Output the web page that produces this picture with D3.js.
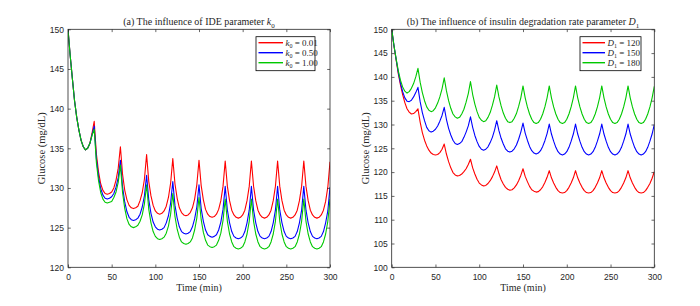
<!DOCTYPE html>
<html>
<head>
<meta charset="utf-8">
<script src="https://cdn.jsdelivr.net/npm/d3@7"></script>
<style>
  body { margin: 0; background: #fff; }
  svg { display: block; }
  .tick text { font-family: "Liberation Sans", Arial, sans-serif; font-size: 8.5px; fill: #262626; }
  .serif { font-family: "Liberation Serif", "Times New Roman", serif; fill: #262626; }
</style>
</head>
<body>
<svg id="chart" width="700" height="306"></svg>
<script>
// sample times (min)
const time = d3.range(0, 300.01, 2.5);
const xTicks = [0, 50, 100, 150, 200, 250, 300];
const yTicksA = [120, 125, 130, 135, 140, 145, 150];
const yTicksB = [100, 105, 110, 115, 120, 125, 130, 135, 140, 145, 150];
const legendA = ["0.01", "0.50", "1.00"];
const legendB = ["120", "150", "180"];
const colors = ["#ff0000", "#0000ff", "#00c800"];

// (a) IDE parameter k0
const ideK001 = [
  150, 146.7, 143.8, 141.0, 138.9, 137.3, 136.0, 135.2, 134.8, 135.0, 135.6, 136.9,
  138.4, 134.3, 132.0, 130.5, 129.7, 129.3, 129.2, 129.3, 129.5, 130.0, 131.0, 132.5,
  135.2, 131.7, 129.7, 128.5, 127.8, 127.5, 127.4, 127.5, 127.7, 128.4, 129.4, 131.1,
  134.2, 130.8, 129.0, 127.8, 127.1, 126.8, 126.7, 126.8, 127.1, 127.7, 128.8, 130.6,
  133.7, 130.5, 128.7, 127.5, 126.9, 126.6, 126.5, 126.6, 126.9, 127.5, 128.6, 130.4,
  133.5, 130.3, 128.5, 127.3, 126.7, 126.4, 126.3, 126.4, 126.7, 127.3, 128.4, 130.2,
  133.4, 130.2, 128.4, 127.2, 126.6, 126.3, 126.2, 126.3, 126.6, 127.2, 128.4, 130.2,
  133.4, 130.2, 128.4, 127.2, 126.6, 126.3, 126.2, 126.3, 126.6, 127.2, 128.4, 130.2,
  133.4, 130.2, 128.4, 127.2, 126.6, 126.3, 126.2, 126.3, 126.6, 127.2, 128.4, 130.2,
  133.4, 130.2, 128.4, 127.2, 126.6, 126.3, 126.2, 126.3, 126.6, 127.2, 128.3, 130.1,
  133.3
];
const ideK050 = [
  150, 146.7, 143.8, 141.0, 138.9, 137.3, 136.0, 135.2, 134.8, 135.0, 135.6, 136.7,
  137.8, 133.7, 131.4, 129.9, 129.1, 128.7, 128.6, 128.7, 128.9, 129.3, 130.1, 131.3,
  133.5, 130.1, 128.2, 127.0, 126.3, 126.0, 125.9, 126.0, 126.2, 126.7, 127.6, 129.0,
  131.6, 128.5, 126.8, 125.7, 125.1, 124.8, 124.7, 124.8, 125.0, 125.6, 126.5, 128.1,
  130.8, 127.8, 126.2, 125.1, 124.5, 124.3, 124.2, 124.3, 124.5, 125.1, 126.1, 127.6,
  130.4, 127.4, 125.8, 124.7, 124.1, 123.9, 123.8, 123.9, 124.1, 124.7, 125.7, 127.3,
  130.2, 127.2, 125.6, 124.5, 123.9, 123.7, 123.6, 123.7, 123.9, 124.5, 125.6, 127.2,
  130.2, 127.2, 125.6, 124.5, 123.9, 123.7, 123.6, 123.7, 123.9, 124.5, 125.6, 127.2,
  130.2, 127.2, 125.6, 124.5, 123.9, 123.7, 123.6, 123.7, 123.9, 124.5, 125.6, 127.2,
  130.2, 127.2, 125.6, 124.5, 123.9, 123.7, 123.6, 123.7, 123.9, 124.5, 125.6, 127.1,
  130.1
];
const ideK100 = [
  150, 146.7, 143.8, 141.0, 138.9, 137.3, 136.0, 135.2, 134.8, 135.0, 135.6, 136.6,
  137.4, 133.2, 130.9, 129.4, 128.6, 128.2, 128.1, 128.2, 128.3, 128.8, 129.5, 130.7,
  132.9, 129.4, 127.4, 126.1, 125.4, 125.1, 125.0, 125.1, 125.3, 125.8, 126.6, 128.0,
  130.4, 127.3, 125.6, 124.5, 123.9, 123.6, 123.5, 123.6, 123.8, 124.3, 125.2, 126.7,
  129.3, 126.4, 124.8, 123.8, 123.2, 123.0, 122.9, 123.0, 123.2, 123.7, 124.7, 126.2,
  128.8, 126.0, 124.4, 123.4, 122.8, 122.6, 122.5, 122.6, 122.8, 123.4, 124.3, 125.9,
  128.6, 125.8, 124.2, 123.2, 122.6, 122.4, 122.3, 122.4, 122.6, 123.2, 124.2, 125.8,
  128.6, 125.8, 124.2, 123.2, 122.6, 122.4, 122.3, 122.4, 122.6, 123.2, 124.2, 125.8,
  128.6, 125.8, 124.2, 123.2, 122.6, 122.4, 122.3, 122.4, 122.6, 123.2, 124.2, 125.8,
  128.6, 125.8, 124.2, 123.2, 122.6, 122.4, 122.3, 122.4, 122.6, 123.2, 124.2, 125.8,
  128.6
];

// (b) insulin degradation rate D1
const degD120 = [
  150, 146.6, 143.6, 140.7, 138.3, 136.3, 134.6, 133.3, 132.6, 132.2, 132.3, 132.7,
  133.3, 130.5, 128.3, 126.7, 125.5, 124.6, 124.0, 123.7, 123.6, 123.7, 124.1, 124.8,
  125.9, 123.8, 122.2, 120.9, 119.9, 119.4, 119.2, 119.3, 119.6, 120.1, 120.7, 121.6,
  122.7, 120.9, 119.6, 118.5, 117.7, 117.3, 117.1, 117.2, 117.6, 118.2, 119.0, 120.0,
  121.3, 119.7, 118.4, 117.5, 116.8, 116.4, 116.2, 116.3, 116.7, 117.3, 118.2, 119.3,
  120.7, 119.1, 118.0, 117.0, 116.3, 116.0, 115.8, 115.9, 116.3, 116.9, 117.8, 118.9,
  120.3, 118.8, 117.7, 116.8, 116.1, 115.7, 115.6, 115.7, 116.1, 116.8, 117.7, 118.8,
  120.3, 118.8, 117.7, 116.8, 116.1, 115.7, 115.6, 115.7, 116.1, 116.8, 117.7, 118.8,
  120.3, 118.8, 117.7, 116.8, 116.1, 115.7, 115.6, 115.7, 116.1, 116.8, 117.7, 118.8,
  120.3, 118.8, 117.7, 116.8, 116.1, 115.7, 115.6, 115.7, 116.1, 116.8, 117.6, 118.7,
  120.1
];
const degD150 = [
  150, 146.7, 143.8, 141.0, 138.7, 136.9, 135.6, 134.9, 134.8, 135.1, 135.8, 136.7,
  137.8, 134.8, 132.5, 130.8, 129.4, 128.7, 128.4, 128.6, 129.0, 129.7, 130.7, 131.9,
  133.6, 131.1, 129.2, 127.8, 126.7, 126.0, 125.8, 126.0, 126.4, 127.3, 128.4, 129.7,
  131.6, 129.4, 127.7, 126.4, 125.4, 124.8, 124.6, 124.8, 125.3, 126.2, 127.3, 128.8,
  130.8, 128.7, 127.1, 125.9, 124.9, 124.4, 124.2, 124.4, 124.9, 125.7, 126.9, 128.4,
  130.3, 128.2, 126.7, 125.4, 124.5, 124.0, 123.8, 124.0, 124.5, 125.4, 126.6, 128.1,
  130.1, 128.0, 126.5, 125.2, 124.3, 123.8, 123.6, 123.8, 124.3, 125.2, 126.5, 128.0,
  130.1, 128.0, 126.5, 125.2, 124.3, 123.8, 123.6, 123.8, 124.3, 125.2, 126.5, 128.0,
  130.1, 128.0, 126.5, 125.2, 124.3, 123.8, 123.6, 123.8, 124.3, 125.2, 126.5, 128.0,
  130.1, 128.0, 126.5, 125.2, 124.3, 123.8, 123.6, 123.8, 124.3, 125.2, 126.5, 128.0,
  130.0
];
const degD180 = [
  150, 146.7, 143.9, 141.3, 139.3, 137.9, 137.0, 136.6, 136.9, 137.6, 138.6, 140.0,
  141.8, 138.9, 136.7, 135.0, 133.7, 133.0, 132.7, 132.9, 133.5, 134.5, 135.8, 137.5,
  139.8, 137.1, 135.0, 133.4, 132.2, 131.6, 131.3, 131.5, 132.2, 133.2, 134.7, 136.5,
  139.0, 136.3, 134.3, 132.7, 131.5, 130.9, 130.6, 130.8, 131.5, 132.5, 134.0, 135.8,
  138.3, 135.8, 133.9, 132.4, 131.3, 130.6, 130.4, 130.6, 131.3, 132.3, 133.8, 135.6,
  138.1, 135.6, 133.7, 132.2, 131.1, 130.4, 130.2, 130.4, 131.1, 132.2, 133.7, 135.6,
  138.1, 135.6, 133.7, 132.2, 131.1, 130.4, 130.2, 130.4, 131.1, 132.2, 133.7, 135.6,
  138.1, 135.6, 133.7, 132.2, 131.1, 130.4, 130.2, 130.4, 131.1, 132.2, 133.7, 135.6,
  138.1, 135.6, 133.7, 132.2, 131.1, 130.4, 130.2, 130.4, 131.1, 132.2, 133.7, 135.6,
  138.1, 135.6, 133.7, 132.2, 131.1, 130.4, 130.2, 130.4, 131.1, 132.2, 133.7, 135.6,
  138.0
];

const svg = d3.select("#chart");
const plotTop = 29.3, plotBottom = 267.3;

function drawPanel(cfg) {
  const x = d3.scaleLinear().domain([0, 300]).range([cfg.left, cfg.right]);
  const y = d3.scaleLinear().domain(cfg.yDomain).range([plotBottom, plotTop]);
  const g = svg.append("g");

  g.append("clipPath").attr("id", "clip-" + cfg.id)
    .append("rect")
    .attr("x", cfg.left).attr("y", plotTop)
    .attr("width", cfg.right - cfg.left).attr("height", plotBottom - plotTop);

  const line = d3.line()
    .x((d, i) => x(time[i]))
    .y(d => y(d));

  g.append("g").attr("clip-path", `url(#clip-${cfg.id})`)
    .selectAll("path")
    .data(cfg.series)
    .enter()
    .append("path")
    .attr("d", line)
    .attr("fill", "none")
    .attr("stroke", (d, i) => colors[i])
    .attr("stroke-width", 1.1)
    .attr("stroke-linejoin", "round");

  // axes with inward ticks on all four sides
  const axisColor = "#262626";
  const styleAxis = sel => {
    sel.select(".domain").remove();
    sel.selectAll(".tick line").attr("stroke", axisColor).attr("stroke-width", 0.7);
  };
  g.append("g").attr("transform", `translate(0,${plotBottom})`)
    .call(d3.axisBottom(x).tickValues(xTicks).tickSizeInner(-2.8).tickSizeOuter(0).tickPadding(6.5))
    .call(styleAxis);
  g.append("g").attr("transform", `translate(0,${plotTop})`)
    .call(d3.axisTop(x).tickValues(xTicks).tickSizeInner(-2.8).tickSizeOuter(0).tickFormat(""))
    .call(styleAxis);
  g.append("g").attr("transform", `translate(${cfg.left},0)`)
    .call(d3.axisLeft(y).tickValues(cfg.yTicks).tickSizeInner(-2.8).tickSizeOuter(0).tickPadding(4))
    .call(styleAxis);
  g.append("g").attr("transform", `translate(${cfg.right},0)`)
    .call(d3.axisRight(y).tickValues(cfg.yTicks).tickSizeInner(-2.8).tickSizeOuter(0).tickFormat(""))
    .call(styleAxis);

  g.append("rect")
    .attr("x", cfg.left).attr("y", plotTop)
    .attr("width", cfg.right - cfg.left).attr("height", plotBottom - plotTop)
    .attr("fill", "none").attr("stroke", axisColor).attr("stroke-width", 0.8);

  // title
  const cx = (cfg.left + cfg.right) / 2;
  const title = g.append("text").attr("class", "serif")
    .attr("x", cx).attr("y", 25).attr("text-anchor", "middle")
    .attr("font-size", "10px");
  title.append("tspan").text(cfg.title);
  title.append("tspan").attr("font-style", "italic").text(cfg.sym);
  title.append("tspan").attr("font-size", "7px").attr("dy", "2.5").text(cfg.sub);

  // axis labels
  g.append("text").attr("class", "serif")
    .attr("x", cx).attr("y", 291).attr("text-anchor", "middle")
    .attr("font-size", "10px").text("Time (min)");
  g.append("text").attr("class", "serif")
    .attr("transform", `translate(${cfg.left - 23},${(plotTop + plotBottom) / 2}) rotate(-90)`)
    .attr("text-anchor", "middle")
    .attr("font-size", "10.5px").text("Glucose (mg/dL)");

  // legend
  const lg = g.append("g").attr("transform", `translate(${cfg.legX},36.7)`);
  lg.append("rect").attr("width", cfg.legW).attr("height", 34)
    .attr("fill", "#fff").attr("stroke", "#000").attr("stroke-width", 0.8);
  cfg.labels.forEach((lab, i) => {
    const yy = 6 + i * 10;
    lg.append("line").attr("x1", 2.5).attr("x2", cfg.legLine).attr("y1", yy).attr("y2", yy)
      .attr("stroke", colors[i]).attr("stroke-width", 1.4);
    const t = lg.append("text").attr("class", "serif")
      .attr("x", cfg.legLine + 2.5).attr("y", yy + 3).attr("font-size", "9px");
    t.append("tspan").attr("font-style", "italic").text(cfg.sym);
    t.append("tspan").attr("font-size", "6px").attr("dy", "2").text(cfg.sub);
    t.append("tspan").attr("dy", "-2").text(" = " + lab);
  });
}

drawPanel({
  id: "a", left: 68, right: 330, yDomain: [120, 150], yTicks: yTicksA,
  series: [ideK001, ideK050, ideK100],
  title: "(a) The influence of IDE parameter ", sym: "k", sub: "0",
  labels: legendA, legX: 256, legW: 59, legLine: 27
});
drawPanel({
  id: "b", left: 391.7, right: 654.3, yDomain: [100, 150], yTicks: yTicksB,
  series: [degD120, degD150, degD180],
  title: "(b) The influence of insulin degradation rate parameter ", sym: "D", sub: "1",
  labels: legendB, legX: 580, legW: 61, legLine: 25
});
</script>
</body>
</html>
